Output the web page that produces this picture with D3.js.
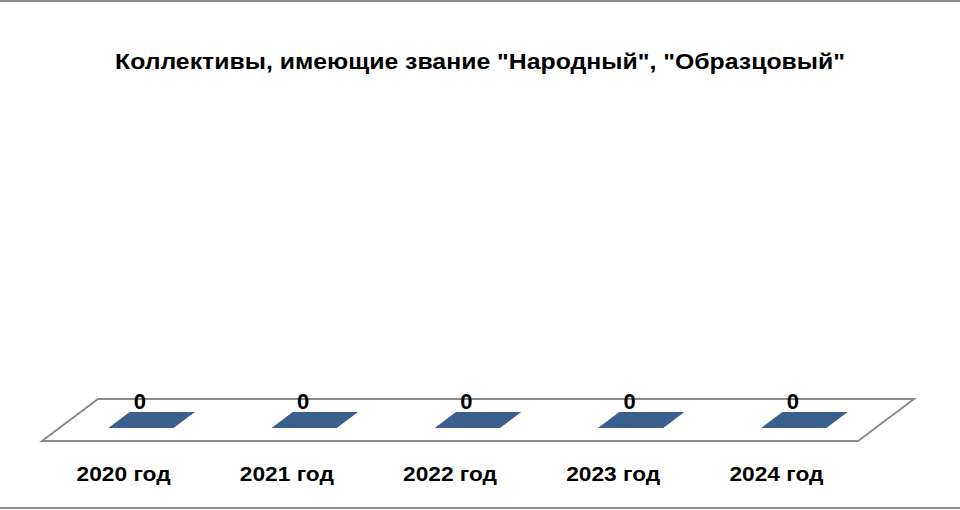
<!DOCTYPE html>
<html><head><meta charset="utf-8">
<script src="https://cdn.jsdelivr.net/npm/d3@7"></script>
<style>
html,body{margin:0;padding:0;background:#fff;}
svg{display:block;}
text{font-family:"Liberation Sans",Arial,sans-serif;font-weight:bold;fill:#000;}
</style></head>
<body>
<svg id="chart" width="960" height="510"></svg>
<script>
const title = 'Коллективы, имеющие звание "Народный", "Образцовый"';
const categories = ["2020 год", "2021 год", "2022 год", "2023 год", "2024 год"];
const values = [0, 0, 0, 0, 0];

const W = 960, H = 510;
const svg = d3.select("#chart");

// top and bottom border lines
svg.append("line").attr("x1", 0).attr("x2", W).attr("y1", 1).attr("y2", 1)
  .attr("stroke", "#8c8c8c").attr("stroke-width", 2);
svg.append("line").attr("x1", 0).attr("x2", W).attr("y1", 508).attr("y2", 508)
  .attr("stroke", "#8c8c8c").attr("stroke-width", 2);

// title
svg.append("text").attr("x", 480).attr("y", 69).attr("text-anchor", "middle")
  .style("font-size", "22px").attr("textLength", 730).attr("lengthAdjust", "spacingAndGlyphs")
  .text(title);

// 3D geometry
const depthX = 56, depthY = -42;
const floorLeft = 42, floorRight = 858, floorFront = 441;
const x = d3.scaleBand().domain(categories).range([floorLeft, floorRight])
  .paddingInner(0.6).paddingOuter(0.3);
const y = d3.scaleLinear().domain([0, 1]).range([floorFront, 180]);
const d0 = 0.31, d1 = 0.69;

// floor
const floor = [[floorLeft, floorFront], [floorRight, floorFront],
  [floorRight + depthX, floorFront + depthY], [floorLeft + depthX, floorFront + depthY]];
svg.append("path").attr("d", d3.line()(floor) + "Z")
  .attr("fill", "#fff").attr("stroke", "#8c8c8c").attr("stroke-width", 2);

// bars (top face at value height)
const g = svg.append("g");
categories.forEach((c, i) => {
  const v = values[i];
  const x0 = x(c), x1 = x(c) + x.bandwidth();
  const yv = y(v);
  const pts = [
    [x0 + d0 * depthX, yv + d0 * depthY],
    [x1 + d0 * depthX, yv + d0 * depthY],
    [x1 + d1 * depthX, yv + d1 * depthY],
    [x0 + d1 * depthX, yv + d1 * depthY]
  ];
  const h = y(0) - yv;
  if (h > 0) {
    g.append("rect").attr("x", pts[0][0]).attr("y", pts[0][1]).attr("width", x.bandwidth()).attr("height", h).attr("fill", "#3a5f8c");
  }
  g.append("path").attr("d", d3.line()(pts) + "Z").attr("fill", "#3b608d");
  g.append("text").attr("x", x0 + x.bandwidth() / 2 + d0 * depthX - 1)
    .attr("y", yv + d0 * depthY - 19).attr("text-anchor", "middle")
    .style("font-size", "22px").text(d3.format("d")(v));
});

// category labels
svg.append("g").selectAll("text").data(categories).join("text")
  .attr("x", d => x(d) + x.bandwidth() / 2)
  .attr("y", 481).attr("text-anchor", "middle")
  .style("font-size", "20px").attr("textLength", 94).attr("lengthAdjust", "spacingAndGlyphs")
  .text(d => d);
</script>
</body></html>
